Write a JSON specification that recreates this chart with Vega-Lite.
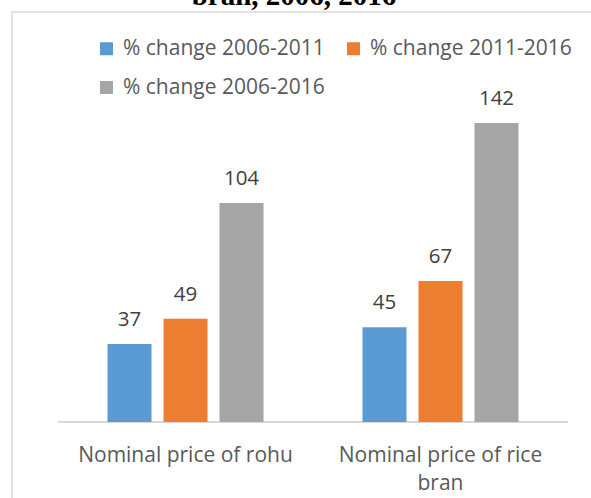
{
  "$schema": "https://vega.github.io/schema/vega-lite/v6.json",
  "autosize": {"type": "none"},
  "padding": {"left": 12, "top": 12, "right": -3, "bottom": -3},
  "width": 582,
  "height": 489,
  "background": "white",
  "title": {
    "text": "bran, 2006, 2016",
    "font": "Liberation Serif",
    "fontWeight": "bold",
    "fontSize": 29,
    "color": "#000000",
    "anchor": "middle",
    "baseline": "alphabetic",
    "offset": 0,
    "dy": 22,
    "dx": -9
  },
  "data": {
    "values": [
      {"item": "Nominal price of rohu", "series": "% change 2006-2011", "value": 37},
      {"item": "Nominal price of rohu", "series": "% change 2011-2016", "value": 49},
      {"item": "Nominal price of rohu", "series": "% change 2006-2016", "value": 104},
      {"item": "Nominal price of rice bran", "series": "% change 2006-2011", "value": 45},
      {"item": "Nominal price of rice bran", "series": "% change 2011-2016", "value": 67},
      {"item": "Nominal price of rice bran", "series": "% change 2006-2016", "value": 142}
    ]
  },
  "encoding": {
    "x": {
      "field": "item",
      "type": "nominal",
      "sort": ["Nominal price of rohu", "Nominal price of rice bran"],
      "scale": {"paddingInner": 0, "paddingOuter": 0.1412, "align": 0.639},
      "axis": {
        "title": null,
        "orient": "bottom",
        "offset": -79,
        "domain": false,
        "ticks": false,
        "labelAngle": 0,
        "labelFont": "Open Sans",
        "labelFontSize": 21,
        "labelColor": "#595959",
        "labelBaseline": "alphabetic",
        "labelPadding": 39,
        "labelLineHeight": 28.5,
        "labelLimit": 400,
        "labelExpr": "datum.value == 'Nominal price of rice bran' ? ['Nominal price of rice', 'bran'] : datum.value"
      }
    }
  },
  "layer": [
    {
      "mark": {"type": "rule", "stroke": "#d9d9d9", "strokeWidth": 1.5},
      "encoding": {
        "x": {"field": "item", "type": "nominal", "sort": ["Nominal price of rohu", "Nominal price of rice bran"], "bandPosition": 0},
        "x2": {"field": "item", "bandPosition": 1},
        "y": {"datum": 0, "type": "quantitative", "scale": {"domain": [-37.5, 194.7], "nice": false, "zero": false}, "axis": null}
      }
    },
    {
      "mark": {"type": "bar"},
      "encoding": {
        "xOffset": {
          "field": "series",
          "type": "nominal",
          "sort": ["% change 2006-2011", "% change 2011-2016", "% change 2006-2016"],
          "scale": {"paddingInner": 0.214, "paddingOuter": 0.884}
        },
        "y": {"field": "value", "type": "quantitative", "scale": {"domain": [-37.5, 194.7], "nice": false, "zero": false}, "axis": null},
        "y2": {"datum": 0},
        "color": {
          "field": "series",
          "type": "nominal",
          "sort": ["% change 2006-2011", "% change 2011-2016", "% change 2006-2016"],
          "scale": {
            "domain": ["% change 2006-2011", "% change 2011-2016", "% change 2006-2016"],
            "range": ["#5B9BD5", "#ED7D31", "#A5A5A5"]
          },
          "legend": {
            "title": null,
            "orient": "none",
            "legendX": 84,
            "legendY": 26,
            "direction": "horizontal",
            "columns": 2,
            "padding": 0,
            "symbolType": "square",
            "symbolSize": 169,
            "symbolStrokeWidth": 0,
            "labelFont": "Open Sans",
            "labelFontSize": 21,
            "labelColor": "#595959",
            "labelOffset": 6,
            "columnPadding": 18,
            "rowPadding": 17,
            "labelLimit": 400
          }
        }
      }
    },
    {
      "mark": {"type": "text", "font": "Open Sans", "fontSize": 20.5, "color": "#404040", "baseline": "alphabetic", "dy": -18},
      "encoding": {
        "xOffset": {
          "field": "series",
          "type": "nominal",
          "sort": ["% change 2006-2011", "% change 2011-2016", "% change 2006-2016"],
          "scale": {"paddingInner": 0.214, "paddingOuter": 0.884}
        },
        "y": {"field": "value", "type": "quantitative", "scale": {"domain": [-37.5, 194.7], "nice": false, "zero": false}, "axis": null},
        "text": {"field": "value", "type": "quantitative"}
      }
    }
  ],
  "config": {
    "view": {"stroke": "#d9d9d9", "strokeWidth": 1.5}
  }
}
